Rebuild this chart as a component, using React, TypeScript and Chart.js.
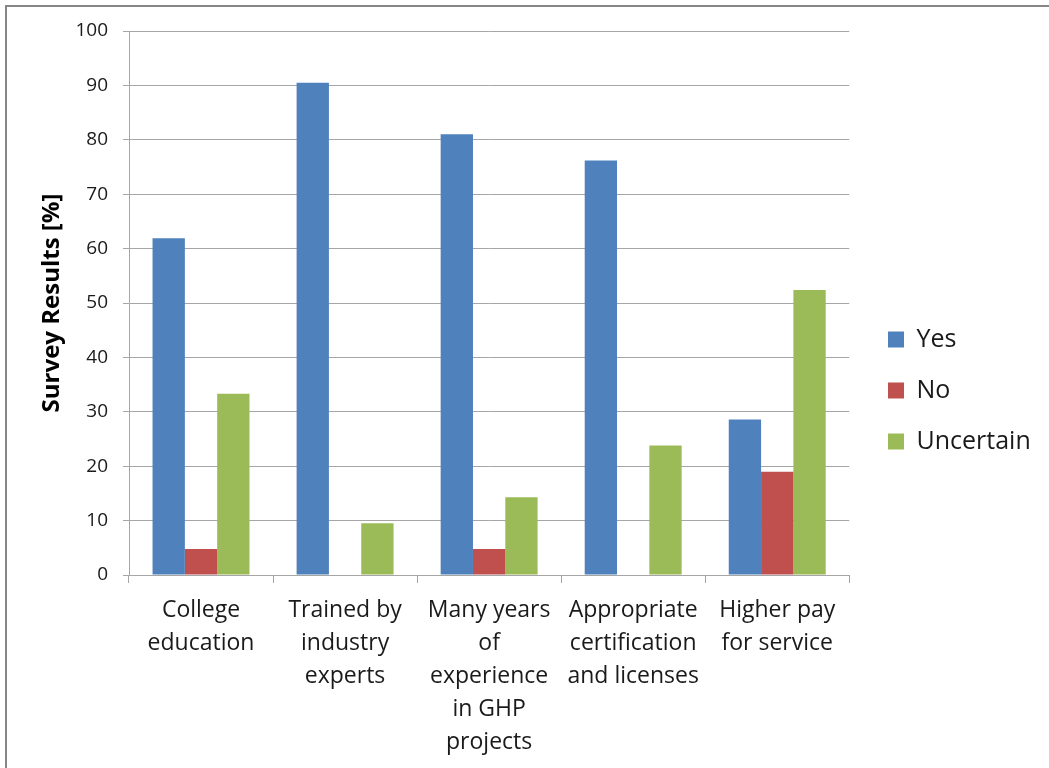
import React, { useEffect, useRef } from "react";
import { Chart, registerables } from "chart.js";

Chart.register(...registerables);

const categories: string[][] = [
  ["College", "education"],
  ["Trained by", "industry", "experts"],
  ["Many years", "of", "experience", "in GHP", "projects"],
  ["Appropriate", "certification", "and licenses"],
  ["Higher pay", "for service"],
];

const yesValues = [61.9, 90.5, 81.0, 76.2, 28.6];
const noValues = [4.8, 0, 4.8, 0, 19.0];
const uncertainValues = [33.3, 9.5, 14.3, 23.8, 52.4];

const seriesNames = ["Yes", "No", "Uncertain"];
const seriesColors = ["#4F81BD", "#C0504D", "#9BBB59"];

const yTitle = "Survey Results [%]";

const FONT = "'Open Sans', 'DejaVu Sans', sans-serif";

const borderPlugin = {
  id: "outerBorder",
  beforeDraw(chart: any) {
    const ctx = chart.ctx;
    ctx.save();
    ctx.fillStyle = "#ffffff";
    ctx.fillRect(0, 0, chart.width, chart.height);
    ctx.strokeStyle = "#878787";
    ctx.lineWidth = 2;
    ctx.strokeRect(6, 6, chart.width + 50, chart.height + 50);
    ctx.restore();
  },
};

const legendShift = {
  id: "legendShift",
  afterLayout(chart: any) {
    const lg = chart.legend;
    if (!lg) return;
    const targetLeft = 888 - lg.options.labels.padding;
    const dx = targetLeft - lg.left;
    lg.left += dx;
    lg.right += dx;
    const dy = -9;
    lg.top += dy;
    lg.bottom += dy;
  },
};

export default function App() {
  const ref = useRef<HTMLCanvasElement | null>(null);

  useEffect(() => {
    if (!ref.current) return;
    const values = [yesValues, noValues, uncertainValues];
    const chart = new Chart(ref.current, {
      type: "bar",
      data: {
        labels: categories,
        datasets: seriesNames.map((name, i) => ({
          label: name,
          data: values[i],
          backgroundColor: seriesColors[i],
          borderWidth: 0,
          categoryPercentage: 0.673,
          barPercentage: 1.0,
        })),
      },
      plugins: [borderPlugin, legendShift],
      options: {
        animation: false,
        responsive: false,
        maintainAspectRatio: false,
        layout: { padding: { left: 0, top: 31, right: 21, bottom: 0 } },
        plugins: {
          tooltip: { enabled: false },
          legend: {
            display: true,
            position: "right",
            align: "center",
            labels: {
              boxWidth: 16,
              boxHeight: 16,
              padding: 26,
              color: "#1a1a1a",
              font: { family: FONT, size: 25 },
            },
          },
        },
        scales: {
          x: {
            afterFit: (scale: any) => {
              scale.height = 193;
            },
            grid: {
              offset: true,
              drawOnChartArea: false,
              drawTicks: true,
              tickLength: 8,
              color: "#a6a6a6",
            },
            border: { display: true, color: "#a6a6a6", width: 1 },
            ticks: {
              color: "#1a1a1a",
              padding: 11,
              maxRotation: 0,
              autoSkip: false,
              font: { family: FONT, size: 23, lineHeight: 1.43 },
            },
          },
          y: {
            min: 0,
            max: 100,
            afterFit: (scale: any) => {
              scale.width = 129;
            },
            ticks: {
              stepSize: 10,
              color: "#1a1a1a",
              padding: 15,
              font: { family: FONT, size: 19 },
            },
            grid: {
              color: "#a6a6a6",
              drawTicks: true,
              tickLength: 6,
            },
            border: { display: true, color: "#a6a6a6", width: 1 },
            title: {
              display: true,
              text: yTitle,
              color: "#000000",
              padding: { top: 38, bottom: 0 },
              font: { family: FONT, size: 24, weight: "bold" },
            },
          },
        },
      },
    });
    return () => chart.destroy();
  }, []);

  return (
    <div style={{ position: "fixed", left: 0, top: 0, width: 1049, height: 768 }}>
      <canvas ref={ref} width={1049} height={768} style={{ display: "block" }} />
    </div>
  );
}
